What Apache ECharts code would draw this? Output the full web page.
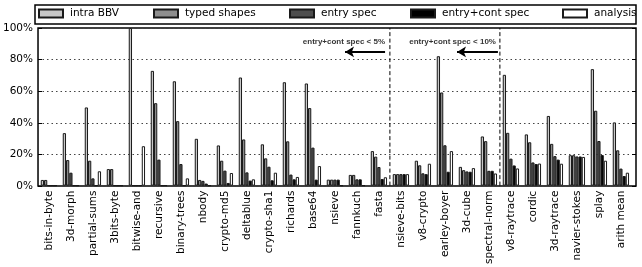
<!DOCTYPE html>
<html><head><meta charset="utf-8">
<script src="https://cdn.jsdelivr.net/npm/echarts@6/dist/echarts.min.js"></script>
<style>html,body{margin:0;padding:0;background:#fff}#c{width:642px;height:267px}</style>
</head><body><div id="c"></div>
<script>
const categories = ['bits-in-byte','3d-morph','partial-sums','3bits-byte','bitwise-and','recursive','binary-trees','nbody','crypto-md5','deltablue','crypto-sha1','richards','base64','nsieve','fannkuch','fasta','nsieve-bits','v8-crypto','earley-boyer','3d-cube','spectral-norm','v8-raytrace','cordic','3d-raytrace','navier-stokes','splay','arith mean'];
const seriesNames = ['intra BBV','typed shapes','entry spec','entry+cont spec','analysis'];
const intraBBV      = [3.6,33.3,49.6,10.5,100,72.8,66.2,29.7,25.5,68.6,26.2,65.6,64.8,3.8,6.8,21.9,7.3,15.8,82.1,11.9,31.2,70.3,32.5,44.2,19.3,73.9,40.1];
const typedShapes   = [3.6,16.2,15.8,10.5,0,52.3,40.9,3.6,15.8,29.3,17.3,28.1,49.2,3.8,6.8,18.4,7.3,12.9,59.1,9.8,28.2,33.5,27.5,26.5,19.3,47.5,22.4];
const entrySpec     = [0,8.2,4.6,0,0,16.5,13.7,3.0,9.5,8.4,12.0,7.0,24.1,3.8,4.0,11.8,7.3,7.8,25.6,9.0,9.4,17.1,14.7,18.7,18.5,28.3,10.8];
const entryContSpec = [0,0,0,0,0,0,0,1.3,1.7,3.2,3.4,4.0,3.8,3.8,4.0,4.2,7.3,7.3,8.8,8.8,9.4,12.8,13.7,16.5,18.5,19.4,6.1];
const analysis      = [0,0,9.1,0,25,0,4.6,0,8.0,4.0,8.2,5.5,12.4,0,0,5.3,7.3,13.9,21.9,11.1,7.7,10.9,14.0,13.9,18.2,15.8,8.2];
const yTicks = [0,20,40,60,80,100];
// annotation positions in category units / percent
const boundaries = [15.5, 20.5];
const annotTexts = ['entry+cont spec < 5%', 'entry+cont spec < 10%'];
const annotTextX = [15.28, 20.32];
const arrowFrom = [15.28, 20.41];
const arrowTo = [13.46, 18.55];
const annotTextY = 91.3;
const arrowY = 84.8;

const values = [intraBBV, typedShapes, entrySpec, entryContSpec, analysis];
const fills = ['#c8c8c8','#8e8e8e','#4e4e4e','#000000','#ffffff'];
const legendLeft = [38,153,289,410,562];
const FONT = 'DejaVu Sans';

const chart = echarts.init(document.getElementById('c'), null, {renderer:'canvas'});
const series = values.map((v,i)=>({
  name: seriesNames[i], type:'bar', xAxisIndex:1, yAxisIndex:1,
  data: v, barGap:'0%', barCategoryGap:'26%',
  itemStyle:{color:fills[i], borderColor:'#1a1a1a', borderWidth:1},
  emphasis:{disabled:true}, z:3
}));
boundaries.forEach(b=>{
  series.push({type:'line', xAxisIndex:2, yAxisIndex:1, data:[[b,0],[b,100]], symbol:'none',
    lineStyle:{color:'#000', width:1, type:[4,2.5]}, silent:true, z:4});
});
series.push({type:'scatter', xAxisIndex:2, yAxisIndex:1, symbolSize:0, silent:true, z:5,
  data: annotTexts.map((t,i)=>({value:[annotTextX[i], annotTextY], name:t})),
  label:{show:true, position:'left', distance:0, formatter:p=>p.name,
    fontFamily:'Liberation Sans', fontWeight:'bold', fontSize:8, color:'#000'}
});
series.push({type:'line', xAxisIndex:2, yAxisIndex:1, data:[], silent:true, z:5,
  markLine:{silent:true, symbol:['none','arrow'], symbolSize:[8,9], label:{show:false},
    lineStyle:{color:'#000', width:2, type:'solid'},
    data: arrowFrom.map((f,i)=>[{coord:[f,arrowY]},{coord:[arrowTo[i],arrowY]}])}
});

chart.setOption({
  animation:false,
  graphic:[{type:'rect', shape:{x:35,y:5,width:601,height:19}, style:{fill:'#fff', stroke:'#000', lineWidth:1.5}, z:-1}],
  legend: seriesNames.map((n,i)=>({data:[n], left:legendLeft[i], top:8, padding:0, itemWidth:24, itemHeight:8,
    icon:'rect', textStyle:{fontFamily:FONT, fontSize:10.5, color:'#000', padding:[0,0,0,2]}, selectedMode:false})),
  grid:[
    {left:35, width:601, top:28, height:158, show:true, borderColor:'#000', borderWidth:1.5, backgroundColor:'transparent'},
    {left:37.9, width:594, top:28, height:158}
  ],
  xAxis:[
    {gridIndex:0, type:'value', min:0, max:1, show:false},
    {gridIndex:1, type:'category', data:categories,
      axisLine:{show:false}, axisTick:{show:false},
      axisLabel:{interval:0, rotate:90, margin:5, fontFamily:FONT, fontSize:10.5, color:'#000'}},
    {gridIndex:1, type:'value', min:-0.5, max:26.5, show:false}
  ],
  yAxis:[
    {gridIndex:0, type:'value', min:0, max:100, interval:20,
      axisLine:{show:false}, axisTick:{show:true, inside:true, length:4, lineStyle:{color:'#000'}},
      axisLabel:{formatter:'{value}%', margin:5, fontFamily:FONT, fontSize:10.5, color:'#000'},
      splitLine:{show:true, lineStyle:{color:'#444', width:1, type:[1.5,3]}}},
    {gridIndex:1, type:'value', min:0, max:100, show:false},
    {gridIndex:0, type:'value', min:0, max:100, interval:20, position:'right',
      axisLine:{show:false}, axisTick:{show:true, inside:true, length:4, lineStyle:{color:'#000'}},
      axisLabel:{show:false}, splitLine:{show:false}}
  ],
  series
});
</script></body></html>
